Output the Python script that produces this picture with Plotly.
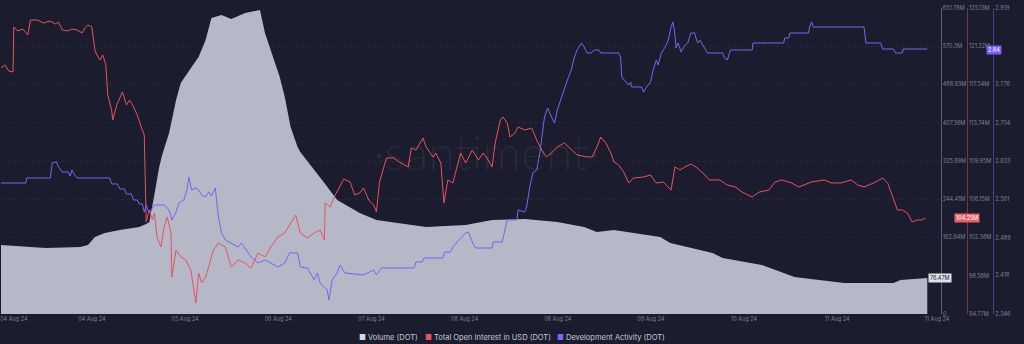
import plotly.graph_objects as go
import pandas as pd

# ---------------- data ----------------
BASE = pd.Timestamp("2024-08-03 00:35")  # left edge of the chart

# Volume (DOT), millions
vol_hours = [0.0, 7.6, 11.5, 20.4, 22.4, 24.2, 26.7, 30.6, 35.6, 37.4, 38.2, 39.5, 40.7, 41.5,
             43.3, 45.1, 46.3, 49.1, 50.9, 52.7, 53.5, 54.2, 56.8, 59.3, 62.9, 66.7, 68.0, 69.5,
             71.8, 73.1, 74.6, 76.4, 77.1, 83.3, 86.6, 92.4, 96.7, 109.5, 119.7, 126.5, 134.9,
             143.3, 150.2, 153.5, 157.9, 169.8, 172.4, 183.3, 185.9, 196.0, 204.4, 217.2, 229.9,
             231.7, 238.6]
vol_musd = [147.0, 142.7, 140.6, 142.7, 147.0, 164.0, 172.5, 178.9, 185.3, 191.7, 196.0, 253.5,
            311.0, 338.7, 385.5, 455.8, 492.0, 526.1, 547.4, 583.6, 611.3, 630.5, 636.9, 628.4,
            641.1, 647.5, 598.5, 562.3, 504.8, 462.2, 398.3, 355.7, 345.1, 279.0, 242.8, 215.1,
            200.2, 185.3, 189.6, 200.2, 202.4, 196.0, 185.3, 174.7, 178.9, 164.0, 151.2, 129.9,
            119.3, 104.4, 78.8, 66.0, 66.0, 72.4, 76.7]

# Total Open Interest in USD (DOT), millions
oi_hours = [0.0, 1.0, 2.0, 3.1, 3.3, 4.3, 5.6, 6.9, 7.6, 9.4, 10.9, 12.7, 14.0, 14.8, 15.8, 17.1,
            18.3, 19.6, 20.9, 21.6, 22.4, 23.4, 24.2, 24.7, 25.5, 26.2, 27.0, 27.5, 28.5, 28.8,
            29.8, 31.3, 32.3, 33.1, 33.9, 35.1, 36.4, 36.9, 37.4, 38.2, 39.0, 39.5, 40.2, 41.2,
            42.0, 42.8, 43.8, 44.0, 45.1, 46.3, 47.6, 48.9, 50.2, 50.9, 51.7, 52.7, 53.5, 54.7,
            56.0, 57.8, 59.3, 61.1, 62.9, 64.4, 66.2, 68.0, 69.5, 71.3, 73.1, 74.6, 75.9, 77.1,
            78.9, 80.7, 82.2, 83.3, 83.5, 84.8, 86.1, 88.3, 89.9, 91.1, 92.4, 93.4, 94.7, 96.0,
            96.7, 97.5, 98.5, 99.3, 101.1, 102.6, 104.9, 105.7, 106.9, 108.7, 109.5, 111.3, 112.0,
            113.3, 114.1, 115.1, 116.4, 117.6, 118.4, 119.7, 121.4, 123.0, 124.2, 125.5, 126.5,
            127.3, 128.6, 129.3, 130.4, 131.1, 132.4, 133.2, 134.9, 136.7, 138.0, 139.3, 140.5,
            141.8, 143.3, 145.1, 146.9, 148.4, 151.0, 152.3, 153.5, 154.5, 155.8, 157.1, 157.9,
            159.1, 160.4, 161.7, 162.9, 165.5, 167.3, 168.8, 170.6, 172.6, 173.6, 174.9, 176.2,
            177.7, 179.0, 180.8, 182.5, 185.1, 187.1, 189.2, 190.9, 193.5, 195.3, 197.8, 199.4,
            201.1, 203.7, 205.5, 208.8, 212.1, 213.9, 216.4, 219.0, 220.7, 222.3, 224.8, 227.1,
            228.4, 229.7, 230.9, 232.2, 233.5, 234.7, 236.0, 237.3, 238.1]
oi_musd = [119.18, 119.48, 118.88, 118.78, 123.25, 122.85, 123.05, 122.45, 123.94, 123.94, 123.64,
           123.84, 123.54, 123.74, 122.95, 122.85, 123.05, 122.95, 122.65, 123.15, 123.44, 123.25,
           120.96, 120.47, 119.97, 120.47, 119.48, 116.50, 115.01, 114.02, 115.51, 116.80, 115.51,
           116.00, 115.51, 114.51, 113.03, 112.53, 103.90, 105.09, 104.10, 104.79, 102.41, 101.42,
           103.40, 104.40, 102.81, 98.44, 101.12, 100.43, 100.13, 99.13, 95.86, 98.84, 97.85,
           98.44, 99.43, 101.12, 101.81, 101.42, 99.43, 100.13, 99.83, 99.33, 100.82, 100.43,
           101.42, 102.41, 102.81, 103.80, 104.59, 102.81, 102.31, 102.81, 103.10, 102.11, 105.78,
           105.39, 106.58, 108.16, 107.87, 106.58, 106.78, 107.27, 106.08, 105.58, 104.89, 107.87,
           109.26, 110.25, 110.25, 109.85, 109.36, 111.24, 111.04, 112.23, 111.34, 110.35, 110.74,
           109.75, 105.78, 108.07, 107.77, 109.75, 110.74, 109.75, 111.04, 110.05, 110.74, 110.05,
           109.36, 111.74, 114.02, 114.32, 113.72, 112.33, 112.73, 113.33, 113.03, 113.22, 112.03,
           111.04, 110.35, 110.74, 111.34, 111.74, 111.04, 110.55, 110.35, 110.35, 111.34, 112.33,
           111.74, 110.74, 109.85, 109.55, 108.86, 107.77, 108.26, 108.36, 108.56, 107.77, 107.87,
           107.07, 109.36, 109.06, 109.36, 109.65, 109.36, 108.76, 108.07, 108.07, 107.57, 107.37,
           106.87, 106.38, 106.87, 107.07, 107.87, 108.07, 107.77, 107.37, 107.87, 108.07, 107.77,
           107.77, 108.07, 107.57, 107.37, 107.77, 108.26, 107.77, 106.38, 105.09, 105.09, 104.79,
           103.90, 104.10, 104.10, 104.30]

# Development Activity (DOT)
dev_hours = [0.0, 6.4, 6.6, 12.7, 13.2, 14.3, 14.8, 15.8, 17.3, 17.8, 18.3, 18.8, 19.6, 28.0, 28.5,
             30.0, 30.6, 31.8, 32.3, 33.6, 34.1, 35.1, 35.6, 36.4, 36.9, 37.4, 38.2, 39.5, 42.0,
             43.3, 44.0, 45.1, 45.8, 47.1, 47.9, 48.4, 49.1, 50.2, 50.9, 51.7, 52.7, 53.5, 54.2,
             55.2, 56.0, 56.8, 57.8, 59.3, 61.1, 61.9, 63.1, 64.4, 66.2, 68.0, 69.5, 71.3, 73.1,
             74.3, 76.4, 77.1, 78.9, 80.7, 81.5, 82.2, 84.0, 84.5, 85.3, 86.6, 87.3, 88.6, 93.4,
             96.0, 96.7, 98.0, 101.8, 106.4, 106.9, 108.5, 109.0, 113.8, 114.3, 115.8, 116.4, 117.9,
             119.7, 120.4, 121.4, 122.2, 126.5, 126.8, 129.1, 129.8, 130.4, 132.9, 133.2, 134.9,
             135.4, 136.2, 137.0, 138.0, 138.8, 140.0, 140.8, 141.8, 142.6, 143.3, 144.4, 145.9,
             146.9, 147.7, 148.4, 149.5, 150.2, 151.0, 152.0, 152.8, 154.0, 154.5, 159.1, 159.6,
             159.9, 160.9, 161.7, 162.2, 162.4, 165.0, 165.5, 166.3, 167.3, 168.0, 168.8, 169.3,
             170.1, 171.1, 171.9, 172.6, 173.1, 173.6, 173.9, 174.4, 175.2, 176.2, 176.9, 177.7,
             178.7, 179.0, 179.5, 180.0, 180.8, 182.0, 185.9, 186.4, 187.1, 187.6, 187.9, 193.5,
             193.7, 201.6, 201.9, 202.9, 203.2, 208.0, 208.3, 208.8, 209.3, 222.3, 222.8, 226.6,
             227.1, 229.9, 230.4, 232.2, 232.4, 238.6]
dev_activity = [2.5913, 2.5913, 2.6007, 2.6007, 2.6288, 2.6307, 2.6213, 2.6119, 2.6119, 2.6044,
                2.6157, 2.6082, 2.6007, 2.6007, 2.5895, 2.5895, 2.5801, 2.5801, 2.5707, 2.5707,
                2.5595, 2.5595, 2.5520, 2.5520, 2.5370, 2.5501, 2.5352, 2.5501, 2.5501, 2.5408,
                2.5221, 2.5370, 2.5539, 2.5595, 2.5782, 2.6026, 2.5782, 2.5820, 2.5782, 2.5689,
                2.5651, 2.5745, 2.5670, 2.5820, 2.5277, 2.4977, 2.4846, 2.4790, 2.4715, 2.4790,
                2.4659, 2.4528, 2.4415, 2.4472, 2.4415, 2.4340, 2.4415, 2.4603, 2.4603, 2.4340,
                2.4322, 2.4097, 2.4228, 2.4041, 2.3910, 2.3723, 2.4097, 2.4228, 2.4378, 2.4228,
                2.4191, 2.4285, 2.4191, 2.4322, 2.4322, 2.4322, 2.4434, 2.4434, 2.4509, 2.4509,
                2.4621, 2.4621, 2.4715, 2.4846, 2.4977, 2.4996, 2.4809, 2.4696, 2.4696, 2.4809,
                2.4809, 2.5033, 2.5221, 2.5221, 2.5408, 2.5370, 2.5464, 2.5838, 2.6101, 2.6157,
                2.6475, 2.7149, 2.7318, 2.7149, 2.7037, 2.7280, 2.7524, 2.7842, 2.8029, 2.8273,
                2.8404, 2.8535, 2.8460, 2.8348, 2.8348, 2.8404, 2.8404, 2.8348, 2.8348, 2.8273,
                2.7898, 2.7805, 2.7748, 2.7805, 2.7711, 2.7711, 2.7617, 2.7711, 2.7805, 2.8029,
                2.8217, 2.8123, 2.8348, 2.8460, 2.8591, 2.8834, 2.8928, 2.8685, 2.8441, 2.8535,
                2.8366, 2.8497, 2.8535, 2.8722, 2.8722, 2.8628, 2.8535, 2.8591, 2.8497, 2.8348,
                2.8348, 2.8254, 2.8217, 2.8310, 2.8404, 2.8404, 2.8535, 2.8535, 2.8628, 2.8628,
                2.8722, 2.8722, 2.8834, 2.8928, 2.8834, 2.8834, 2.8535, 2.8535, 2.8422, 2.8422,
                2.8348, 2.8348, 2.8422, 2.8422]

# x-axis ticks
x_tick_times = ["2024-08-03 03:53", "2024-08-04 00:00", "2024-08-05 00:00", "2024-08-06 00:00",
                "2024-08-07 00:00", "2024-08-08 00:00", "2024-08-09 00:00", "2024-08-10 00:00",
                "2024-08-11 00:00", "2024-08-12 00:00", "2024-08-13 01:41"]
x_tick_text = ["04 Aug 24", "04 Aug 24", "05 Aug 24", "06 Aug 24", "07 Aug 24", "08 Aug 24",
               "08 Aug 24", "09 Aug 24", "10 Aug 24", "11 Aug 24", "11 Aug 24"]

# (labels 81.47M and 2.848 are covered by the last-value badges in the original)
vol_ticks = [0, 162.94, 244.41, 325.89, 407.36, 488.83, 570.30, 651.78]
vol_tick_text = ["0", "162.94M", "244.41M", "325.89M", "407.36M", "488.83M",
                 "570.3M", "651.78M"]
oi_ticks = [94.77, 98.56, 102.36, 106.15, 109.95, 113.74, 117.54, 121.32, 125.13]
oi_tick_text = ["94.77M", "98.56M", "102.36M", "106.15M", "109.95M", "113.74M", "117.54M",
                "121.32M", "125.13M"]
dev_ticks = [2.346, 2.418, 2.489, 2.561, 2.633, 2.704, 2.776, 2.919]
dev_tick_text = ["2.346", "2.418", "2.489", "2.561", "2.633", "2.704", "2.776", "2.919"]

last_vol, last_oi, last_dev = "76.47M", "104.25M", "2.84"
last_vol_v, last_oi_v, last_dev_v = 76.47, 104.25, 2.84

# ---------------- styling ----------------
BG = "#1b1c2d"
VOL_C = "#b4b8c7"
OI_C = "#e8535d"
DEV_C = "#7a64f0"
TICK_C = "#7f8294"
FONT = "Inter"


def to_time(hours):
    return [BASE + pd.Timedelta(hours=h) for h in hours]


fig = go.Figure()
fig.add_trace(go.Scatter(x=to_time(vol_hours), y=vol_musd, yaxis="y", mode="lines",
                         line=dict(width=0, color=VOL_C), fill="tozeroy", fillcolor=VOL_C,
                         name="Volume (DOT)", hoverinfo="skip"))
fig.add_trace(go.Scatter(x=to_time(oi_hours), y=oi_musd, yaxis="y2", mode="lines",
                         line=dict(width=1, color=OI_C), name="Total Open Interest in USD (DOT)"))
fig.add_trace(go.Scatter(x=to_time(dev_hours), y=dev_activity, yaxis="y3", mode="lines",
                         line=dict(width=1, color=DEV_C), name="Development Activity (DOT)"))

tickfont = dict(family=FONT, size=5.5, color=TICK_C)
x_end = BASE + pd.Timedelta(hours=241.6)

fig.update_layout(
    width=1024, height=344,
    margin=dict(l=0, r=0, t=8, b=30),
    paper_bgcolor=BG, plot_bgcolor=BG,
    showlegend=False,
    font=dict(family=FONT),
    xaxis=dict(domain=[0, 0.9268], type="date", range=[BASE, x_end],
               tickmode="array", tickvals=[pd.Timestamp(t) for t in x_tick_times],
               ticktext=x_tick_text, ticklabeloverflow="allow",
               tickfont=tickfont, showgrid=False, zeroline=False, showline=False, ticks=""),
    yaxis=dict(side="right", anchor="free", position=0.9285, range=[0, 651.78],
               tickmode="array", tickvals=vol_ticks, ticktext=vol_tick_text, tickfont=tickfont,
               showline=True, linecolor="#5c5f70", linewidth=1, showgrid=True,
               gridcolor="#272939", griddash="dot", zeroline=False, ticks=""),
    yaxis2=dict(side="right", anchor="free", position=0.9545, overlaying="y",
                range=[94.77, 125.13], tickmode="array", tickvals=oi_ticks,
                ticktext=oi_tick_text, tickfont=tickfont, showline=True, linecolor="#6e3a45",
                linewidth=1, showgrid=False, zeroline=False, ticks=""),
    yaxis3=dict(side="right", anchor="free", position=0.9805, overlaying="y",
                range=[2.346, 2.919], tickmode="array", tickvals=dev_ticks,
                ticktext=dev_tick_text, tickfont=tickfont, showline=True, linecolor="#463f86",
                linewidth=1, showgrid=False, zeroline=False, ticks=""),
)

ann = []
# watermark
ann.append(dict(text="·santiment·", x=0.48, y=0.53, xref="paper", yref="paper",
                showarrow=False, font=dict(family="Lato", size=48, color="rgba(255,255,255,0.06)",
                                           weight=300)))
# last-value badges
ann.append(dict(text=last_vol, x=962 / 1024, y=last_vol_v, xref="paper", yref="y", showarrow=False,
                bgcolor="#dfe1e8", borderpad=1, font=dict(family=FONT, size=5.5, color="#1b1c2d")))
ann.append(dict(text=last_oi, x=990.5 / 1024, y=last_oi_v, xref="paper", yref="y2", showarrow=False,
                bgcolor="#ea6069", borderpad=1, font=dict(family=FONT, size=5.5, color="#ffffff")))
ann.append(dict(text=last_dev, x=1012.5 / 1024, y=last_dev_v, xref="paper", yref="y3",
                showarrow=False, bgcolor="#7b5cf6", borderpad=1,
                font=dict(family=FONT, size=5.5, color="#ffffff")))
# legend
legend_items = [("Volume (DOT)", "#d8dae3", 360), ("Total Open Interest in USD (DOT)", OI_C, 427),
                ("Development Activity (DOT)", DEV_C, 561)]
for label, col, px in legend_items:
    ann.append(dict(text=f"<span style='color:{col}'>■</span> {label}", x=px / 1024,
                    y=(314 - 337) / 306, xref="paper", yref="paper", xanchor="left",
                    yanchor="middle", showarrow=False,
                    font=dict(family=FONT, size=7.5, color="#c9cbd5")))
fig.update_layout(annotations=ann)

fig.write_html("out.html", config={"displayModeBar": False})
